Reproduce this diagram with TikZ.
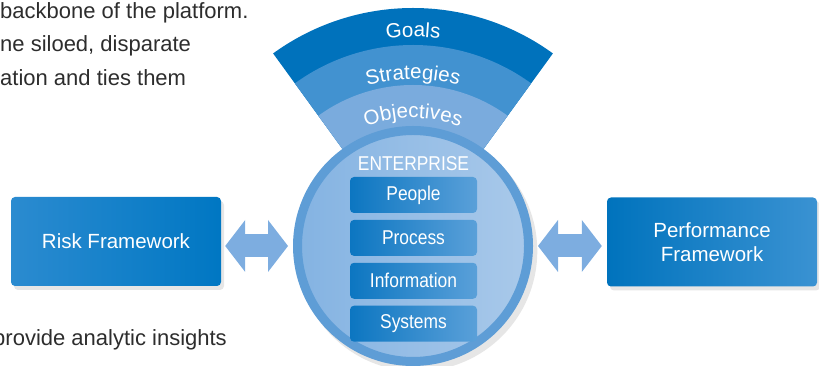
\documentclass[tikz,border=0pt]{standalone}
\usepackage{fontspec}
\setmainfont{Liberation Sans}
\newfontfamily\condfont[FakeStretch=0.87]{Liberation Sans}
\usepackage{xcolor}
\usepackage{tikz}
\usetikzlibrary{arrows.meta,calc,decorations.text,positioning,shadows}
\definecolor{goalblue}{HTML}{0072BC}
\definecolor{stratblue}{HTML}{4292D0}
\definecolor{objblue}{HTML}{7AABDD}
\definecolor{ringblue}{HTML}{5E9DD6}
\definecolor{circleft}{HTML}{84B3E2}
\definecolor{circright}{HTML}{A9C9EA}
\definecolor{arrowblue}{HTML}{7DADE0}
\definecolor{riskleft}{HTML}{2B8BD0}
\definecolor{riskright}{HTML}{0077C3}
\definecolor{perfleft}{HTML}{0073BD}
\definecolor{perfright}{HTML}{3A92D2}
\definecolor{deptleft}{HTML}{0C76C1}
\definecolor{deptright}{HTML}{5AA0D9}
\definecolor{bodygray}{HTML}{2D2D2D}
\tikzset{%
	framebox/.style = {rectangle, rounded corners=4pt, minimum width=210pt, minimum height=89pt, text=white, align=center, font=\fontsize{20.5}{24.5}\selectfont, drop shadow={opacity=0.2, shadow xshift=3pt, shadow yshift=-4pt}},
	deptbox/.style  = {rectangle, rounded corners=4pt, minimum width=127pt, minimum height=36pt, left color=deptleft, right color=deptright, text=white, font=\condfont\fontsize{20}{24}\selectfont},
	hub/.style      = {circle, minimum size=231pt, draw=ringblue, line width=9pt, left color=circleft, right color=circright, drop shadow={opacity=0.2, shadow xshift=4pt, shadow yshift=-5pt, shadow scale=1.04}},
	twoway/.style   = {draw=arrowblue, line width=23pt, {Triangle[width=52pt,length=20pt,line width=0pt]}-{Triangle[width=52pt,length=20pt,line width=0pt]}},
	bodytext/.style = {inner sep=0pt, text=bodygray, font=\fontsize{22}{26}\selectfont},
	fanlabel/.style = {decorate, decoration={text along path, text align=center, text color=white, text={|\fontsize{20.5}{24}\selectfont|#1}}},
}
\begin{document}
\begin{tikzpicture}[x=1pt,y=1pt]
	\clip (0,0) rectangle (819,366);
	\coordinate (ctr) at (413,120);
	\foreach \r/\c in {238/goalblue,201/stratblue,161/objblue}
		\fill[\c] (ctr) -- ([shift={(126:\r pt)}]ctr) arc[start angle=126, end angle=54, radius=\r pt] -- cycle;
	\path[fanlabel=Goals] ([shift={(126:209pt)}]ctr) arc[start angle=126, end angle=54, radius=209pt];
	\path[fanlabel=Strategies] ([shift={(126:167pt)}]ctr) arc[start angle=126, end angle=54, radius=167pt];
	\path[fanlabel=Objectives] ([shift={(126:128pt)}]ctr) arc[start angle=126, end angle=54, radius=128pt];
	\node[hub] (circ) at (ctr) {};
	\node[deptbox] (people) at ($(ctr)+(0.5,51)$) {People};
	\node[deptbox, below=6.5pt of people] (process) {Process};
	\node[deptbox, below=6.5pt of process] (info) {Information};
	\node[deptbox, below=6.5pt of info] (systems) {Systems};
	\node[inner sep=0pt, text=white, font=\condfont\fontsize{20}{24}\selectfont, above=6pt of people] (ent) {ENTERPRISE};
	\node[framebox, left color=riskleft, right color=riskright] (risk) at (116,124.5) {Risk Framework};
	\node[framebox, left color=perfleft, right color=perfright] (perf) at (712,124) {Performance\\Framework};
	\draw[twoway] ($(risk.east |- ctr)+(4,0)$) -- ($(circ.west)+(-5,0)$);
	\draw[twoway] ($(circ.east)+(5,0)$) -- ($(perf.west |- ctr)+(-5,0)$);
	\node[bodytext, anchor=base west] (line1) at (0,347) {backbone of the platform.};
	\node[bodytext, anchor=base west] (line2) at (0,314) {ne siloed, disparate};
	\node[bodytext, anchor=base west] (line3) at (0,280) {ation and ties them};
	\node[bodytext, anchor=base east] (line4) at (227,20) {provide analytic insights};
\end{tikzpicture}
\end{document}
